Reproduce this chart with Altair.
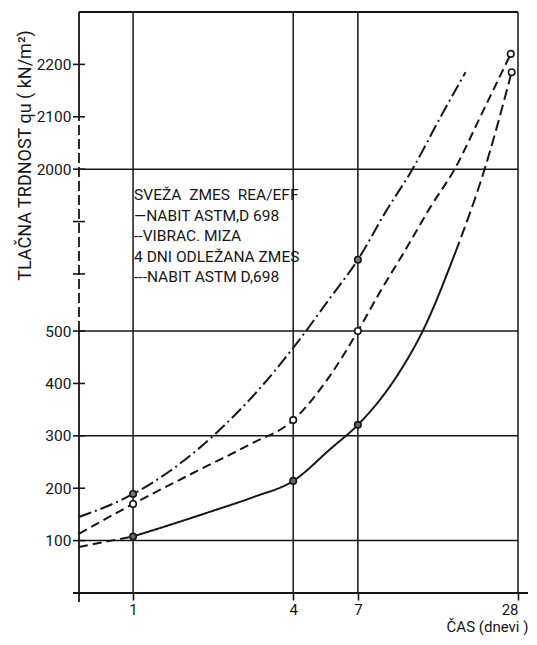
import altair as alt
import pandas as pd

# ---------------- data ----------------
# x = age in days (log axis), y = unconfined strength q_u (kN/m2); broken y axis
dashdot_x = [0.626, 1, 1.439, 2.071, 2.93, 4, 5.52, 7, 8.89, 11.23, 14.2, 17.78]
dashdot_y = [145, 189, 240, 307, 385, 468, 564, 1827, 1918, 2000, 2096, 2185]

dashed_x = [0.626, 1, 1.742, 2.757, 4, 5.52, 7, 8.51, 10.57, 13.13,
            16.17, 20.6, 26.3]
dashed_y = [113, 170, 233, 284, 330, 416, 500, 576, 1846, 1928,
            2000, 2109, 2220]

solid_x = [0.626, 1, 1.415, 2.0, 2.83, 4, 5.52, 7, 8.51, 10.1, 12.27, 16.31,
           20.97, 26.5]
solid_y = [88, 108, 132, 157, 183, 214, 275, 321, 370, 424, 500, 1842,
           2000, 2185]

point_x = [1, 7, 1, 4, 7, 26.3, 1, 4, 7, 26.5]
point_y = [189, 1827, 170, 330, 500, 2220, 108, 214, 321, 2185]
point_fill = ["#777777", "#777777", "white", "white", "white", "white",
              "#666666", "#666666", "#666666", "white"]

x_ticks = [1, 4, 7, 28]
y_ticks = [100, 200, 300, 400, 500, 1800, 1900, 2000, 2100, 2200]
x_grid = [1, 4, 7, 28]
y_grid = [100, 300, 500, 2000]

NB = "\u00a0"
legend_lines = [f"SVEŽA{NB}{NB}ZMES{NB}{NB}REA/EFF", "—NABIT ASTM,D 698",
                "--VIBRAC. MIZA", "4 DNI ODLEŽANA ZMES", "---NABIT ASTM D,698"]
legend_y = [1951, 1911, 1872, 1833, 1794]

BREAK_OFFSET = 1191  # values above the axis break are shifted down by this
W, H = 439, 581
INK = "#161616"
FONT = "Roboto"


def disp(v):
    return v if v < 1000 else v - BREAK_OFFSET


calc = f"datum.v < 1000 ? datum.v : datum.v - {BREAK_OFFSET}"

xscale = alt.Scale(type="log", domain=[0.6262, 28], nice=False)
yscale = alt.Scale(domain=[0, 1109], nice=False, zero=False)

xaxis = alt.Axis(values=x_ticks, format="d", grid=False, domain=False,
                 ticks=True, tickSize=7, tickWidth=1.6, tickColor=INK,
                 labelFont=FONT, labelFontSize=15, labelColor=INK,
                 labelPadding=2,
                 title="ČAS (dnevi )", titleFont=FONT, titleFontSize=15,
                 titleFontWeight="normal", titleColor=INK,
                 titleX=408, titleY=38, titleAlign="center",
                 titleBaseline="alphabetic", titleAnchor="start")

yaxis = alt.Axis(values=[disp(v) for v in y_ticks],
                 labelExpr=(f"datum.value < 550 ? format(datum.value, 'd') : "
                            f"(datum.value > 780 ? format(datum.value + {BREAK_OFFSET}, 'd') : '')"),
                 grid=False, domain=False, ticks=False, labelPadding=8,
                 labelFont=FONT, labelFontSize=15.5, labelColor=INK,
                 title="TLAČNA TRDNOST qu ( kN/m²)", titleFont=FONT,
                 titleFontSize=18, titleFontWeight="normal", titleColor=INK,
                 titleAngle=270, titleX=-54, titleY=143, titleAlign="center",
                 titleBaseline="middle", titleAnchor="start")


def X(field):
    return alt.X(field, type="quantitative", scale=xscale, axis=xaxis)


def Y(field):
    return alt.Y(field, type="quantitative", scale=yscale, axis=yaxis)


# ---------------- tables ----------------
rows = []


def add(series_x, series_y, seg, style, lo, hi):
    for i in range(lo, hi + 1):
        rows.append({"x": series_x[i], "v": series_y[i], "seg": seg, "style": style})


add(dashdot_x, dashdot_y, "dd", "dashdot", 0, len(dashdot_x) - 1)
add(dashed_x, dashed_y, "da", "dash", 0, len(dashed_x) - 1)
add(solid_x, solid_y, "s1", "dash", 0, 1)
add(solid_x, solid_y, "s2", "solid", 1, 11)
add(solid_x, solid_y, "s3", "dashlong", 11, len(solid_x) - 1)
curves = pd.DataFrame(rows)

points = pd.DataFrame({"x": point_x, "v": point_y, "f": point_fill})
gx = pd.DataFrame({"x": x_grid})
gy = pd.DataFrame({"v": y_grid})
ticks = pd.DataFrame({"v": y_ticks})
leg = pd.DataFrame({"t": legend_lines, "v": legend_y, "x": [1] * len(legend_lines)})
yax = pd.DataFrame({"v": [-17, 500, 2100], "v2": [500, 2100, 2300],
                    "style": ["solid", "axdash", "solid"]})

dash_scale = alt.Scale(domain=["solid", "dash", "dashlong", "dashdot", "axdash"],
                       range=[[1, 0], [9, 5], [11, 5], [13, 4, 2, 4], [10, 4]])

grid_v = alt.Chart(gx).mark_rule(color=INK, strokeWidth=1.5).encode(
    x=X("x"), y=alt.value(0), y2=alt.value(H))

grid_h = alt.Chart(gy).transform_calculate(d=calc).mark_rule(
    color=INK, strokeWidth=1.5).encode(
    y=Y("d"), x=alt.value(0), x2=alt.value(W))

top_frame = alt.Chart(gx).mark_rule(color=INK, strokeWidth=1.5).encode(
    x=alt.value(0), x2=alt.value(W), y=alt.value(0))

x_axis_line = alt.Chart(gx).mark_rule(color=INK, strokeWidth=1.8).encode(
    x=alt.value(-6), x2=alt.value(W + 10), y=alt.value(H))

y_axis_line = alt.Chart(yax).transform_calculate(
    d=calc, d2=f"datum.v2 < 1000 ? datum.v2 : datum.v2 - {BREAK_OFFSET}"
).mark_rule(color=INK, strokeWidth=1.8).encode(
    x=alt.value(0), y=Y("d"), y2="d2:Q",
    strokeDash=alt.StrokeDash("style:N", scale=dash_scale, legend=None))

y_tick_marks = alt.Chart(ticks).transform_calculate(d=calc).mark_rule(
    color=INK, strokeWidth=1.6).encode(
    y=Y("d"), x=alt.value(-6), x2=alt.value(6))

lines = alt.Chart(curves).transform_calculate(d=calc).mark_line(
    interpolate="monotone", color=INK, strokeWidth=2).encode(
    x=X("x"), y=Y("d"), detail="seg:N", order="x:Q",
    strokeDash=alt.StrokeDash("style:N", scale=dash_scale, legend=None))

pts = alt.Chart(points).transform_calculate(d=calc).mark_point(
    shape="circle", filled=True, size=42, stroke=INK, strokeWidth=1.6,
    opacity=1).encode(
    x=X("x"), y=Y("d"), fill=alt.Fill("f:N", scale=None))

legend_text = alt.Chart(leg).transform_calculate(d=calc).mark_text(
    align="left", baseline="middle", dx=1, font=FONT, fontSize=15.5,
    color=INK).encode(x=X("x"), y=Y("d"), text="t:N")

chart = alt.layer(
    grid_v, grid_h, top_frame, x_axis_line, y_axis_line, y_tick_marks,
    lines, pts, legend_text
).properties(
    width=W, height=H,
    padding={"left": 71, "top": 4, "right": 11, "bottom": 42},
    autosize=alt.AutoSizeParams(type="none"),
    background="white",
).configure_view(stroke=None)

chart.save("out.html", embed_options={"renderer": "svg", "actions": False})
